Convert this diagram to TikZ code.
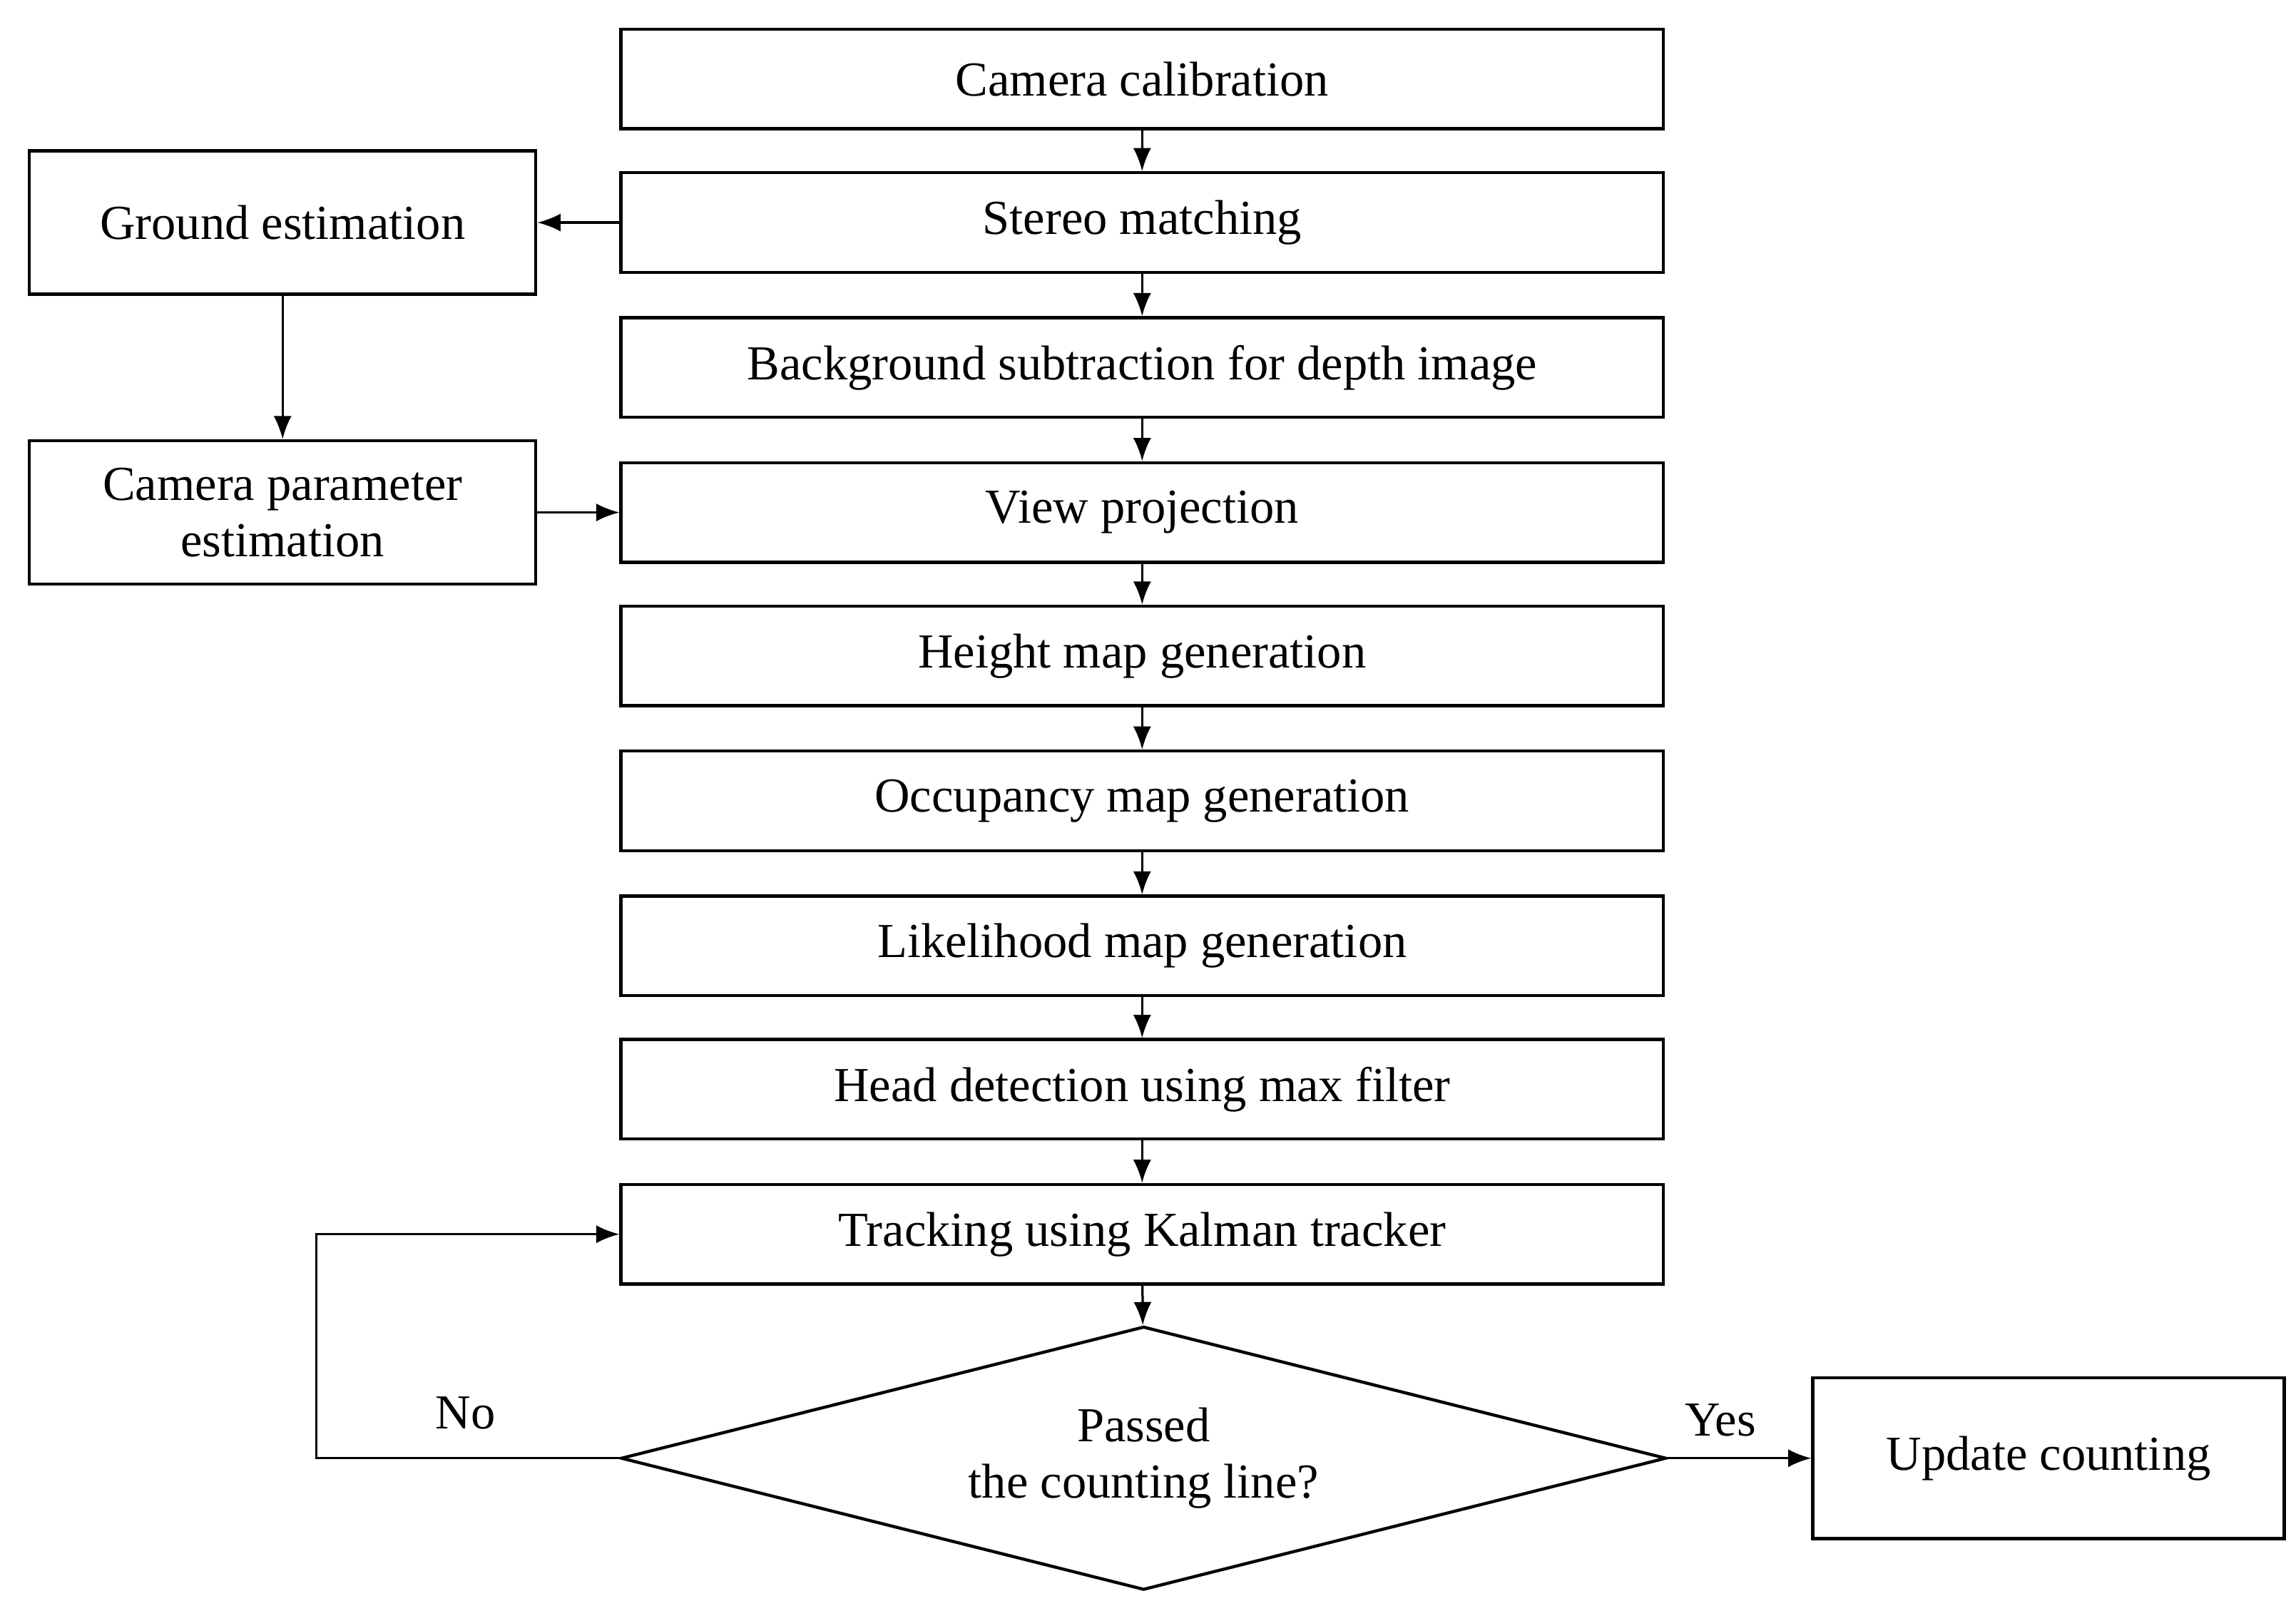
\documentclass[tikz,border=0pt]{standalone}
\usepackage{fontspec}
\setmainfont{Liberation Serif}
\usetikzlibrary{shapes.geometric,arrows.meta}
\begin{document}
\begin{tikzpicture}[x=0.02cm,y=-0.02cm,
  box/.style={draw,line width=1.2pt,minimum width=14.24cm,minimum height=1.36cm,inner sep=0pt,font=\fontsize{19}{22}\selectfont},
  side/.style={draw,line width=1.2pt,minimum width=6.92cm,minimum height=1.96cm,inner sep=0pt,align=center,font=\fontsize{19}{22}\selectfont},
  arr/.style={-{Latex[length=9pt,width=7pt]},line width=0.9pt},
  lbl/.style={font=\fontsize{19}{22}\selectfont}]
\useasboundingbox (0,0) rectangle (1568,1100);
\node[box] (cal) at (780,54) {Camera calibration};
\node[box] (ste) at (780,152) {Stereo matching};
\node[box] (bg) at (780,251) {Background subtraction for depth image};
\node[box] (vp) at (780,350) {View projection};
\node[box] (hm) at (780,448) {Height map generation};
\node[box] (om) at (780,547) {Occupancy map generation};
\node[box] (lm) at (780,646) {Likelihood map generation};
\node[box] (hd) at (780,744) {Head detection using max filter};
\node[box] (tr) at (780,843) {Tracking using Kalman tracker};
\node[draw,line width=1.2pt,diamond,aspect=3.97,minimum width=14.28cm,minimum height=3.6cm,inner sep=0pt,align=center,font=\fontsize{19}{22}\selectfont] (dec) at (781,996) {Passed\\the counting line?};
\node[side] (ge) at (193,152) {Ground estimation};
\node[side] (cp) at (193,350) {Camera parameter\\estimation};
\node[draw,line width=1.2pt,minimum width=6.44cm,minimum height=2.2cm,inner sep=0pt,font=\fontsize{19}{22}\selectfont] (up) at (1399,996) {Update counting};
\draw[arr] (cal) -- (ste);
\draw[arr] (ste) -- (bg);
\draw[arr] (bg) -- (vp);
\draw[arr] (vp) -- (hm);
\draw[arr] (hm) -- (om);
\draw[arr] (om) -- (lm);
\draw[arr] (lm) -- (hd);
\draw[arr] (hd) -- (tr);
\draw[arr] (tr) -- (dec);
\draw[arr] (ste) -- (ge);
\draw[arr] (ge) -- (cp);
\draw[arr] (cp.east) -- (vp.west);
\draw[arr] (dec.east) -- (up.west);
\coordinate (l1) at (216,996);
\coordinate (l2) at (216,843);
\draw[arr] (dec.west) -- (l1) -- (l2) -- (tr.west);
\node[lbl] (no) at (318,965) {No};
\node[lbl] (yes) at (1175,970) {Yes};
\end{tikzpicture}
\end{document}
